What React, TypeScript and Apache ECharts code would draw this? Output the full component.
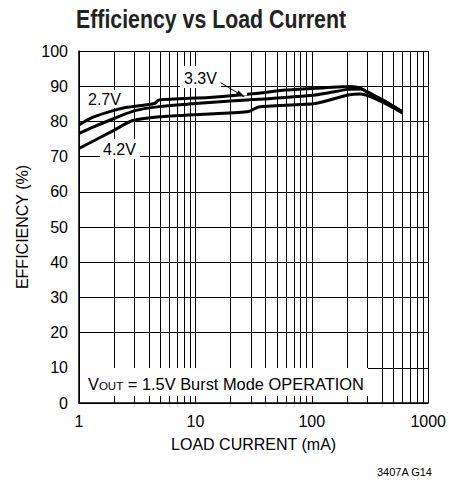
import React, { useEffect, useRef } from "react";
import * as echarts from "echarts";

const titleText = "Efficiency vs Load Current";
const xAxisName = "LOAD CURRENT (mA)";
const yAxisName = "EFFICIENCY (%)";
const footnote = "3407A G14";
const xTickValues = [1, 10, 100, 1000];
const yTickValues = [0, 10, 20, 30, 40, 50, 60, 70, 80, 90, 100];
const minorGridX = [2, 3, 4, 5, 6, 7, 8, 9, 20, 30, 40, 50, 60, 70, 80, 90, 200, 300, 400, 500, 600, 700, 800, 900];

const seriesNames = ["2.7V", "3.3V", "4.2V"];
const load27 = [1, 1.32, 2.03, 2.57, 4.44, 4.9, 13.1, 34.9, 59.3, 107, 217, 264, 303, 422, 601];
const eff27 = [79, 81.2, 83.2, 84, 85.1, 86.1, 86.8, 88, 88.9, 89.4, 89.9, 89.4, 88.3, 85.8, 82.8];
const load33 = [1, 1.32, 2.03, 2.96, 4.9, 10, 34.9, 45, 107, 204, 264, 303, 422, 601];
const eff33 = [76.6, 78.4, 80.9, 83, 84.2, 85.1, 86.3, 86.5, 87.5, 89.1, 89.2, 88.2, 85.8, 82.6];
const load42 = [1, 2.03, 2.81, 4.9, 13.1, 28.7, 34.9, 107, 204, 264, 303, 422, 601];
const eff42 = [72.3, 77.6, 80.1, 81.3, 82.1, 82.8, 84.1, 85.1, 87.5, 87.8, 87.3, 85.2, 82.4];

const FONT = '"Liberation Sans", Arial, sans-serif';

function pairs(xs: number[], ys: number[]) {
  return xs.map((x, i) => [x, ys[i]]);
}

export default function App() {
  const ref = useRef<HTMLDivElement>(null);
  useEffect(() => {
    if (!ref.current) return;
    const chart = echarts.init(ref.current, undefined, { renderer: "svg" });
    const curves = [pairs(load27, eff27), pairs(load33, eff33), pairs(load42, eff42)];
    const labelBox = (x: number, y: number, w: number, h: number, z = 3) => ({
      type: "rect",
      z,
      shape: { x, y, width: w, height: h },
      style: { fill: "#fff" },
      silent: true,
    });
    const labelText = (text: string, x: number, y: number) => ({
      type: "text",
      z: 3,
      x,
      y,
      style: {
        text,
        font: `16px ${FONT}`,
        fill: "#000",
        align: "left",
        textAlign: "left",
        verticalAlign: "middle",
        textVerticalAlign: "middle",
      },
      silent: true,
    });
    chart.setOption({
      animation: false,
      backgroundColor: "#fff",
      grid: { left: 79, right: 18, top: 51, bottom: 80, containLabel: false },
      xAxis: {
        type: "log",
        logBase: 10,
        min: xTickValues[0],
        max: xTickValues[xTickValues.length - 1],
        name: xAxisName,
        nameLocation: "middle",
        nameGap: 33,
        nameTextStyle: { fontFamily: FONT, fontSize: 16, color: "#000" },
        axisLine: { show: true, lineStyle: { color: "#000", width: 1.5 } },
        axisTick: { show: false },
        axisLabel: { color: "#000", fontFamily: FONT, fontSize: 16, margin: 10, formatter: (v: number) => String(v) },
        splitLine: { show: true, lineStyle: { color: "#000", width: 1 } },
      },
      yAxis: {
        type: "value",
        min: yTickValues[0],
        max: yTickValues[yTickValues.length - 1],
        interval: 10,
        name: yAxisName,
        nameLocation: "middle",
        nameGap: 47,
        nameTextStyle: { fontFamily: FONT, fontSize: 16, color: "#000" },
        axisLine: { show: true, lineStyle: { color: "#000", width: 1.5 } },
        axisTick: { show: false },
        axisLabel: { color: "#000", fontFamily: FONT, fontSize: 16, margin: 11 },
        splitLine: { show: true, lineStyle: { color: "#000", width: 1 } },
      },
      series: [
        {
          type: "line",
          z: 1,
          data: [[1, 0]],
          symbol: "none",
          lineStyle: { opacity: 0 },
          silent: true,
          markLine: {
            z: 1,
            silent: true,
            symbol: ["none", "none"],
            label: { show: false },
            lineStyle: { color: "#000", width: 1, type: "solid" },
            data: minorGridX.map((v) => ({ xAxis: v })),
          },
        },
        ...curves.map((d, i) => ({
          type: "line",
          name: seriesNames[i],
          z: 4,
          data: d,
          symbol: "none",
          smooth: 0.2,
          lineStyle: { color: "#000", width: 3 },
        })),
      ],
      graphic: [
        {
          type: "text",
          x: 211,
          y: 19,
          scaleX: 0.82,
          style: {
            text: titleText,
            font: `bold 26px ${FONT}`,
            fill: "#222",
            align: "center",
            textAlign: "center",
            verticalAlign: "middle",
            textVerticalAlign: "middle",
          },
        },
        labelBox(84, 90, 41, 18),
        labelText(seriesNames[0], 88, 99),
        labelBox(180, 66, 41, 22),
        labelText(seriesNames[1], 184, 78),
        labelBox(100, 139, 40, 20),
        labelText(seriesNames[2], 103, 149),
        labelBox(239, 90, 8, 5.5, 5),
        {
          type: "polyline",
          z: 6,
          shape: { points: [[220.7, 82.7], [240, 94.3]] },
          style: { stroke: "#000", lineWidth: 1 },
        },
        {
          type: "polygon",
          z: 6,
          shape: { points: [[245, 97.3], [236, 94.8], [238.6, 90.6]] },
          style: { fill: "#000" },
        },
        labelBox(80, 368, 288, 28),
        {
          type: "text",
          z: 3,
          x: 88,
          y: 383,
          style: {
            text: "{a|V}{b|OUT}{a| = 1.5V Burst Mode OPERATION}",
            fill: "#000",
            align: "left",
            textAlign: "left",
            verticalAlign: "middle",
            textVerticalAlign: "middle",
            rich: {
              a: { fontFamily: FONT, fontSize: 16.4, lineHeight: 18, verticalAlign: "bottom", fill: "#000" },
              b: { fontFamily: FONT, fontSize: 11.5, lineHeight: 8, verticalAlign: "bottom", fill: "#000" },
            },
          },
        },
        {
          type: "text",
          x: 432,
          y: 472,
          style: {
            text: footnote,
            font: `11px ${FONT}`,
            fill: "#000",
            align: "right",
            textAlign: "right",
            verticalAlign: "middle",
            textVerticalAlign: "middle",
          },
        },
      ],
    });
    return () => chart.dispose();
  }, []);
  return <div ref={ref} style={{ width: 449, height: 483, position: "absolute", left: 0, top: 0 }} />;
}
